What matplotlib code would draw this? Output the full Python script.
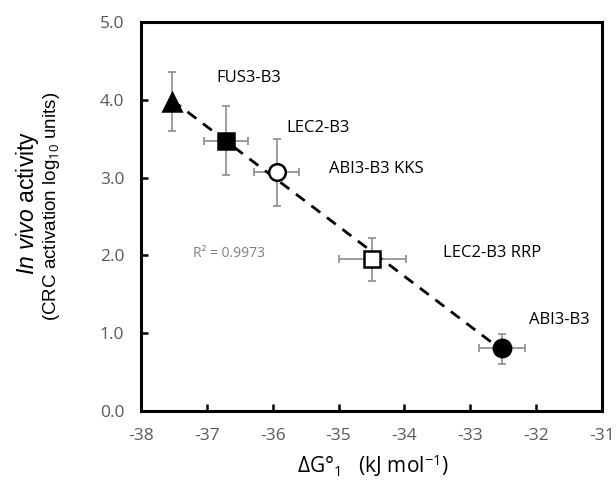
import numpy as np
import matplotlib
matplotlib.use("Agg")
import matplotlib.pyplot as plt

plt.rcParams['font.family'] = ['Open Sans', 'DejaVu Sans']
plt.rcParams['mathtext.fontset'] = 'custom'
plt.rcParams['mathtext.rm'] = 'Open Sans'
plt.rcParams['mathtext.it'] = 'Liberation Sans:italic'

# data
names = ["FUS3-B3", "LEC2-B3", "ABI3-B3 KKS", "LEC2-B3 RRP", "ABI3-B3"]
dG = [-37.53, -36.71, -35.94, -34.49, -32.52]
dG_err = [0.0, 0.33, 0.34, 0.51, 0.35]
act = [3.97, 3.47, 3.07, 1.95, 0.81]
act_lo = [0.37, 0.44, 0.43, 0.28, 0.20]
act_hi = [0.39, 0.45, 0.43, 0.28, 0.18]
markers = ['^', 's', 'o', 's', 'o']
faces = ['black', 'black', 'white', 'white', 'black']
msizes = [12.5, 12, 12, 11, 12.5]
label_pos = [(-36.85, 4.28), (-35.79, 3.64), (-35.15, 3.11), (-33.42, 2.03), (-32.11, 1.17)]

fig = plt.figure(figsize=(6.16, 4.88), dpi=100)
ax = fig.add_axes([0.2289, 0.1578, 0.7484, 0.7971])

# trendline
p = np.polyfit(dG, act, 1)
xs = np.array([min(dG), max(dG)])
ax.plot(xs, np.polyval(p, xs), '--', color='black', lw=2, dashes=(4, 3), zorder=3)

for i in range(len(dG)):
    ax.errorbar(dG[i], act[i], xerr=dG_err[i] if dG_err[i] > 0 else None,
                yerr=[[act_lo[i]], [act_hi[i]]], fmt='none', ecolor='#8c8c8c',
                elinewidth=1.2, capsize=3, capthick=1.2, zorder=2)
    ax.plot(dG[i], act[i], marker=markers[i], ms=msizes[i], mfc=faces[i],
            mec='black', mew=1.8, ls='none', zorder=4)
    ax.text(label_pos[i][0], label_pos[i][1], names[i], fontsize=12,
            color='black', ha='left', va='center')

ax.text(-37.21, 2.02, "R² = 0.9973", fontsize=10, color='#7f7f7f', ha='left', va='center')

ax.set_xlim(-38, -31)
ax.set_ylim(0, 5)
ax.set_xticks(np.arange(-38, -30, 1))
ax.set_yticks(np.arange(0, 5.1, 1))
ax.set_xticklabels([str(v) for v in range(-38, -30)])
ax.set_yticklabels(["%.1f" % v for v in np.arange(0, 5.1, 1)])
ax.tick_params(direction='in', length=5, width=1.8, labelsize=12.5,
               labelcolor='#595959', pad=12)
ax.tick_params(axis='y', pad=12)
for s in ax.spines.values():
    s.set_linewidth(2.2)

fig.text(0.044, 0.585, r"$\it{In\ vivo}$ activity", rotation=90, fontsize=16.5,
         family='Liberation Sans', ha='center', va='center')
fig.text(0.084, 0.576, r"(CRC activation log$_{10}$ units)", rotation=90, fontsize=13.5,
         family='Liberation Sans', ha='center', va='center')
fig.text(0.605, 0.047, r"$\Delta$G°$_1$   (kJ mol$^{-1}$)", fontsize=15,
         ha='center', va='center')

fig.savefig("out.png", dpi=100)
